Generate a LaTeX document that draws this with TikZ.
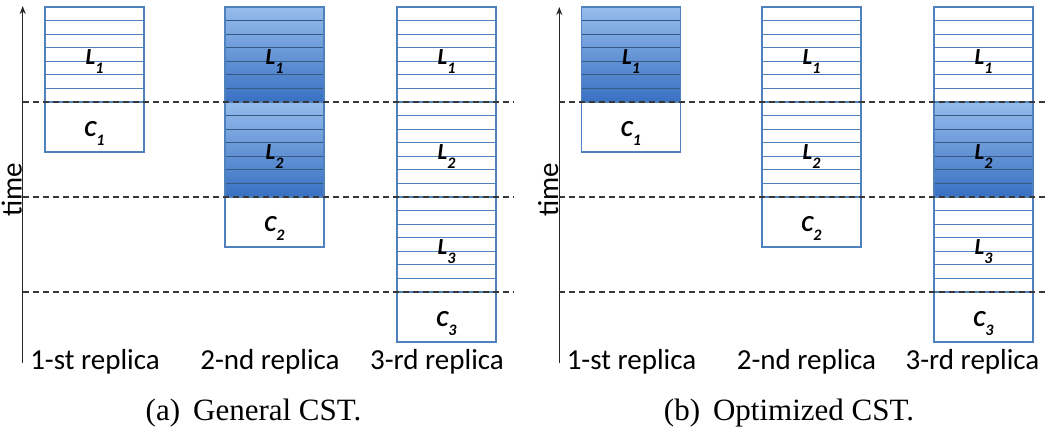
\documentclass[tikz,border=0pt]{standalone}
\usepackage{fontspec}
\setmainfont{Liberation Serif}
\newfontfamily\calfont{Carlito}
\usetikzlibrary{positioning,calc,arrows.meta}
\definecolor{boxblue}{RGB}{79,129,189}
\definecolor{lightfill}{RGB}{150,188,236}
\definecolor{darkfill}{RGB}{56,112,194}
\definecolor{dashgray}{RGB}{55,55,55}
\newcommand{\seglabel}[2]{#1\raisebox{-0.4em}{\fontsize{16}{16}\selectfont #2}}
\tikzset{
  box/.style={draw=boxblue, line width=1.4pt, minimum width=99pt, inner sep=0pt, outer sep=0pt,
    text height=19pt, text depth=0pt, font=\calfont\bfseries\itshape\fontsize{23}{23}\selectfont},
  stripe/.style={boxblue, line width=1.2pt},
  seg/.style={box, minimum height=95pt,
    path picture={\foreach \k in {1,...,6}
      \draw[stripe] ($(path picture bounding box.north west)!\k/7!(path picture bounding box.south west)$)
        -- ($(path picture bounding box.north east)!\k/7!(path picture bounding box.south east)$);}},
  ckpt/.style={box, minimum height=50pt},
  busy/.style={top color=lightfill, bottom color=darkfill, stripe/.append style={color=boxblue!70!black}},
  phase/.style={dashgray, line width=1.4pt, dash pattern=on 6pt off 4pt},
  axis/.style={line width=1.4pt, black!85, -{Stealth[length=8pt,width=6pt]}},
  replica/.style={font=\calfont\fontsize{29}{29}\selectfont, anchor=base, inner sep=0pt},
  caption/.style={font=\fontsize{31}{31}\selectfont, anchor=base, inner sep=0pt}
}
\begin{document}
\begin{tikzpicture}[x=1pt, y=-1pt]
\useasboundingbox (0,0) rectangle (1062,445);

% (a) general
\node[seg] (a1L1) at (94.5,54.5) {\seglabel{L}{1}};
\node[ckpt, below=0pt of a1L1] (a1C1) {\seglabel{C}{1}};
\node[seg, busy] (a2L1) at (274.5,54.5) {\seglabel{L}{1}};
\node[seg, busy, below=0pt of a2L1] (a2L2) {\seglabel{L}{2}};
\node[ckpt, below=0pt of a2L2] (a2C2) {\seglabel{C}{2}};
\node[seg] (a3L1) at (446.5,54.5) {\seglabel{L}{1}};
\node[seg, below=0pt of a3L1] (a3L2) {\seglabel{L}{2}};
\node[seg, below=0pt of a3L2] (a3L3) {\seglabel{L}{3}};
\node[ckpt, below=0pt of a3L3] (a3C3) {\seglabel{C}{3}};

\coordinate (aO) at (22.7,363);
\coordinate (aTop) at (22.7,6);
\coordinate (aE) at (513,363);
\draw[axis] (aO) -- (aTop);
\draw[phase] (aO |- a1C1.north) -- (aE |- a1C1.north);
\draw[phase] (aO |- a2C2.north) -- (aE |- a2C2.north);
\draw[phase] (aO |- a3C3.north) -- (aE |- a3C3.north);

\node[replica, rotate=90] (aTime) at (21.5,190) {time};
\node[replica] (aR1) at (95,369) {1-st replica};
\node[replica] (aR2) at (270,369) {2-nd replica};
\node[replica] (aR3) at (437,369) {3-rd replica};
\node[caption] (aCap) at (253.5,420) {(a)\hspace{13pt}General CST.};

% (b) optimized
\node[seg, busy] (b1L1) at (631,54.5) {\seglabel{L}{1}};
\node[ckpt, below=0pt of b1L1] (b1C1) {\seglabel{C}{1}};
\node[seg] (b2L1) at (811.5,54.5) {\seglabel{L}{1}};
\node[seg, below=0pt of b2L1] (b2L2) {\seglabel{L}{2}};
\node[ckpt, below=0pt of b2L2] (b2C2) {\seglabel{C}{2}};
\node[seg] (b3L1) at (983.5,54.5) {\seglabel{L}{1}};
\node[seg, busy, below=0pt of b3L1] (b3L2) {\seglabel{L}{2}};
\node[seg, below=0pt of b3L2] (b3L3) {\seglabel{L}{3}};
\node[ckpt, below=0pt of b3L3] (b3C3) {\seglabel{C}{3}};

\coordinate (bO) at (559.3,363);
\coordinate (bTop) at (559.3,7);
\coordinate (bE) at (1048,363);
\draw[axis] (bO) -- (bTop);
\draw[phase] (bO |- b1C1.north) -- (bE |- b1C1.north);
\draw[phase] (bO |- b2C2.north) -- (bE |- b2C2.north);
\draw[phase] (bO |- b3C3.north) -- (bE |- b3C3.north);

\node[replica, rotate=90] (bTime) at (558,190) {time};
\node[replica] (bR1) at (631.5,369) {1-st replica};
\node[replica] (bR2) at (806.5,369) {2-nd replica};
\node[replica] (bR3) at (972.5,369) {3-rd replica};
\node[caption] (bCap) at (789,420) {(b)\hspace{13pt}Optimized CST.};
\end{tikzpicture}
\end{document}
